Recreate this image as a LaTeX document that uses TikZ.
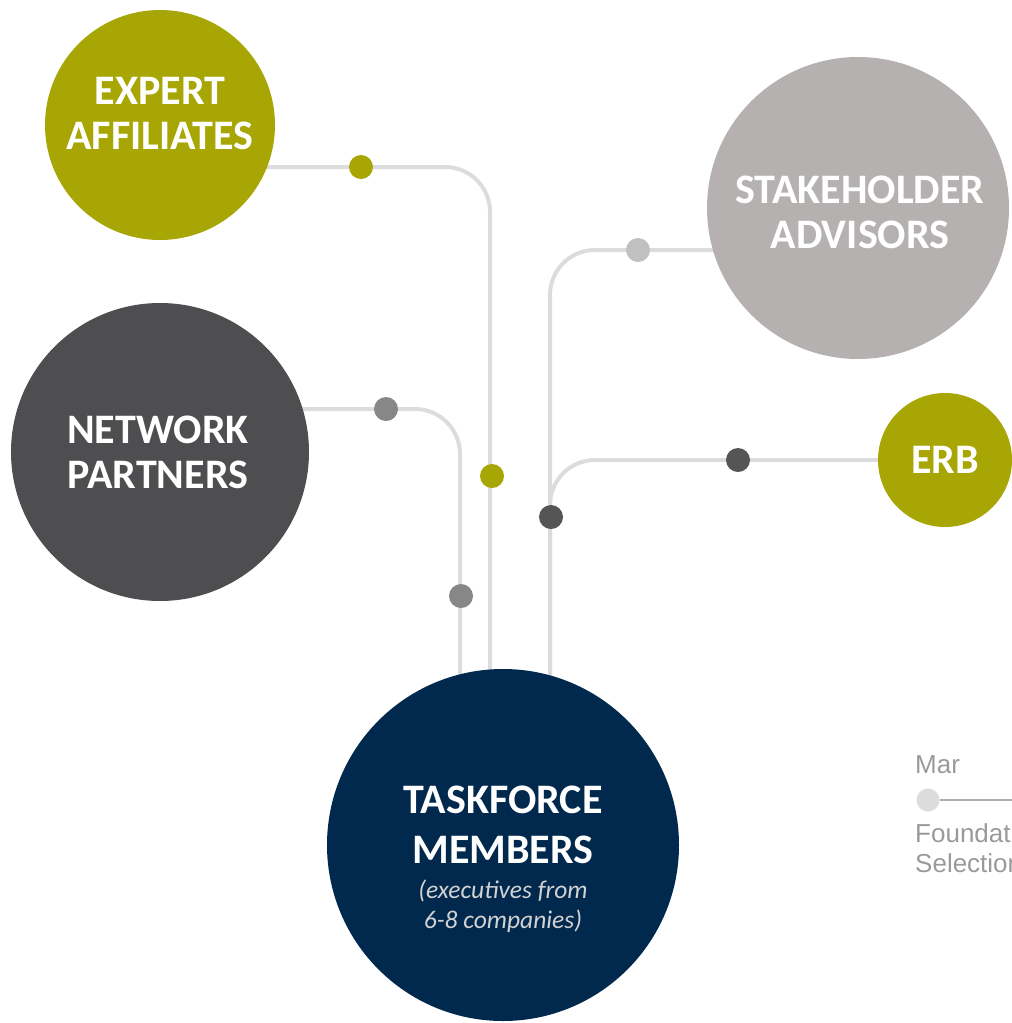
\documentclass[tikz,border=0pt]{standalone}
\usepackage{fontspec}
\setmainfont{Carlito}
\newfontfamily\arialf{Liberation Sans}
\definecolor{olivec}{HTML}{A8A604}
\definecolor{darkc}{HTML}{4E4E50}
\definecolor{stakec}{HTML}{B6B1B1}
\definecolor{navyc}{HTML}{00294D}
\definecolor{linec}{HTML}{DCDCDC}
\definecolor{dotgray}{HTML}{878787}
\definecolor{dotlight}{HTML}{C0C0C0}
\definecolor{dotdark}{HTML}{555555}
\definecolor{italc}{HTML}{D2D2D2}
\definecolor{tlgray}{HTML}{9A9A9A}
\begin{document}
\begin{tikzpicture}[x=1pt,y=-1pt,
  conn/.style={draw=linec, line width=4pt, rounded corners=45pt},
  hub/.style={circle, inner sep=0pt, draw=none},
  dotn/.style={circle, inner sep=0pt, minimum size=24pt, draw=none},
  lbl/.style={text=white, font=\bfseries\fontsize{42}{45}\selectfont, align=center, inner sep=0pt},
  tl/.style={text=tlgray, font=\arialf\fontsize{26}{30}\selectfont, inner sep=0pt, anchor=base west}
]
\useasboundingbox (0,0) rectangle (1012,1023);
\clip (0,0) rectangle (1012,1023);
\coordinate (e1) at (490,167);
\coordinate (n1) at (460,409);
\coordinate (s1) at (550,250);
\coordinate (r1) at (550,460);
\path (160,125) coordinate (expertC) (160,452) coordinate (networkC)
      (858,208) coordinate (stakeC) (945,460) coordinate (erbC)
      (503,845) coordinate (taskC);
% connectors
\draw[conn] (expertC |- e1) -- (e1) -- (e1 |- taskC);
\draw[conn] (networkC |- n1) -- (n1) -- (n1 |- taskC);
\draw[conn] (stakeC |- s1) -- (s1) -- (s1 |- taskC);
\draw[conn] (erbC) -- (r1) -- (r1 |- taskC);
% circles
\node[hub, fill=olivec, minimum size=230pt] (expert) at (expertC) {};
\node[hub, fill=darkc, minimum size=298pt] (network) at (networkC) {};
\node[hub, fill=stakec, minimum size=302pt] (stake) at (stakeC) {};
\node[hub, fill=olivec, minimum size=134pt] (erb) at (erbC) {};
\node[hub, fill=navyc, minimum size=352pt] (task) at (taskC) {};
% labels
\node[lbl] (expertT) at (160,113.5) {EXPERT\\AFFILIATES};
\node[lbl] (networkT) at (158,452) {NETWORK\\PARTNERS};
\node[lbl] (stakeT) at (860,212.5) {STAKEHOLDER\\ADVISORS};
\node[lbl] (erbT) at (945,460) {ERB};
\node[lbl, font=\bfseries\fontsize{42}{50}\selectfont] (taskT) at (503,825) {TASKFORCE\\MEMBERS};
\node[text=italc, font=\itshape\fontsize{25.5}{30}\selectfont, align=center, inner sep=0pt] (taskS) at (503,906) {(executives from\\ 6-8 companies)};
% dots
\node[dotn, fill=olivec] (de1) at (361,167) {};
\node[dotn, fill=olivec] (de2) at (492,476) {};
\node[dotn, fill=dotgray] (dn1) at (386,409) {};
\node[dotn, fill=dotgray] (dn2) at (461,596) {};
\node[dotn, fill=dotlight] (ds1) at (638,250) {};
\node[dotn, fill=dotdark] (dr1) at (738,460) {};
\node[dotn, fill=dotdark] (dr2) at (551,517) {};
% timeline fragment (cut off at the right edge, as in the reference)
\node[hub, fill=linec, minimum size=23pt] (tdot) at (928,800) {};
\coordinate (tend) at (1020,800);
\draw[draw=tlgray!80, line width=2pt] (tdot.east) -- (tend);
\node[tl] (mar) at (915,773) {Mar};
\node[tl] (found) at (915,842) {Foundation};
\node[tl] (sel) at (915,872) {Selection};
\end{tikzpicture}
\end{document}
